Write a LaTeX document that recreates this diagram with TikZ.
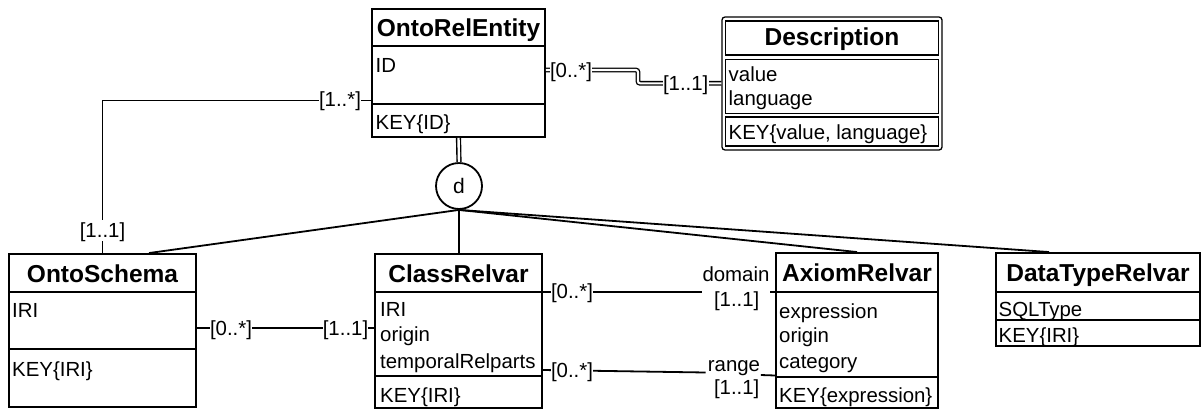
\documentclass[tikz,border=0pt]{standalone}
\usepackage{fontspec}
\setmainfont{Liberation Sans}
\begin{document}
\begin{tikzpicture}[x=1pt,y=-1pt,
  box/.style={draw, line width=1.9pt, inner sep=0pt},
  sepl/.style={line width=1.9pt},
  conn/.style={line width=1.8pt},
  dblA/.style={double, line width=1.4pt, double distance=2.4pt},
  dblB/.style={double, line width=1.3pt, double distance=2.1pt, rounded corners=2pt},
  ttl/.style={font=\fontsize{24.5}{29}\selectfont\bfseries, inner sep=0pt, text height=17.5pt, text depth=0pt},
  att/.style={font=\fontsize{20.4}{24}\selectfont, inner sep=0pt, text height=14.5pt, text depth=0pt, anchor=west},
  lab/.style={font=\fontsize{20.4}{24}\selectfont, inner xsep=0.3pt, inner ysep=3pt, text height=14.5pt, text depth=0pt, fill=white},
  plab/.style={font=\fontsize{20.4}{24}\selectfont, inner xsep=0.5pt, inner ysep=0pt, text height=14.5pt, text depth=0pt},
]
\useasboundingbox (0,0) rectangle (1202,410);

% ---------- OntoRelEntity
\node[box, minimum width=173pt, minimum height=128pt] (ore) at (458.5,73) {};
\draw[sepl] (ore.west |- 0,45.7) -- (ore.east |- 0,45.7);
\draw[sepl] (ore.west |- 0,104.3) -- (ore.east |- 0,104.3);
\node[ttl] (oreT) at (458.5,27.5) {OntoRelEntity};
\node[att] (oreA) at (375.5,65) {ID};
\node[att] (oreK) at (375.5,122) {KEY\{ID\}};

% ---------- Description
\node[draw, line width=1.3pt, rounded corners=3pt, minimum width=220pt, minimum height=133pt, inner sep=0pt] (desc) at (832,83.5) {};
\draw[line width=1.3pt] (725.5,21) rectangle (938.5,55);
\draw[line width=1.3pt] (725.5,59.5) rectangle (938.5,113.3);
\draw[line width=1.3pt] (725.5,117) rectangle (938.5,146);
\node[ttl] (descT) at (832,36.7) {Description};
\node[att] (descA1) at (728.5,74) {value};
\node[att] (descA2) at (728.5,98.3) {language};
\node[att] (descK) at (728.5,132.5) {KEY\{value, language\}};

% ---------- disjointness circle
\node[draw, circle, line width=1.8pt, minimum size=46pt, inner sep=0pt, font=\fontsize{21}{24}\selectfont] (dd) at (459,186) {d};

% ---------- OntoSchema
\node[box, minimum width=187pt, minimum height=153pt] (os) at (102.5,330.5) {};
\draw[sepl] (os.west |- 0,291.7) -- (os.east |- 0,291.7);
\draw[sepl] (os.west |- 0,349) -- (os.east |- 0,349);
\node[ttl] (osT) at (102.5,273.3) {OntoSchema};
\node[att] (osA) at (12,310) {IRI};
\node[att] (osK) at (12,369) {KEY\{IRI\}};

% ---------- ClassRelvar
\node[box, minimum width=167pt, minimum height=154pt] (cr) at (458.5,331) {};
\draw[sepl] (cr.west |- 0,292) -- (cr.east |- 0,292);
\draw[sepl] (cr.west |- 0,376) -- (cr.east |- 0,376);
\node[ttl] (crT) at (458.5,273.3) {ClassRelvar};
\node[att] (crA1) at (380,309.7) {IRI};
\node[att] (crA2) at (380,334) {origin};
\node[att] (crA3) at (380,361) {temporalRelparts};
\node[att] (crK) at (380,395) {KEY\{IRI\}};

% ---------- AxiomRelvar
\node[box, minimum width=162pt, minimum height=155pt] (ar) at (857,330.5) {};
\draw[sepl] (ar.west |- 0,292) -- (ar.east |- 0,292);
\draw[sepl] (ar.west |- 0,377) -- (ar.east |- 0,377);
\node[ttl] (arT) at (857,273) {AxiomRelvar};
\node[att] (arA1) at (779,311) {expression};
\node[att] (arA2) at (779,335.5) {origin};
\node[att] (arA3) at (779,361) {category};
\node[att] (arK) at (779,395) {KEY\{expression\}};

% ---------- DataTypeRelvar
\node[box, minimum width=204pt, minimum height=93pt] (dt) at (1098,299.5) {};
\draw[sepl] (dt.west |- 0,292) -- (dt.east |- 0,292);
\draw[sepl] (dt.west |- 0,320) -- (dt.east |- 0,320);
\node[ttl] (dtT) at (1098,273) {DataTypeRelvar};
\node[att] (dtA) at (998.5,309) {SQLType};
\node[att] (dtK) at (998.5,335) {KEY\{IRI\}};

% ---------- connectors
\draw[conn] (ore.west |- 0,100.5) -| (os.north);
\draw[dblB] (ore.east |- 0,70) -- ++(92,0) |- (desc.west |- 0,83.3);
\draw[dblA] (ore.south) -- (dd.north);
\draw[conn] (dd.south) -- ([xshift=141pt]os.north west);
\draw[conn] (dd.south) -- (dd.south |- cr.north);
\draw[conn] (dd.south) -- (ar.north);
\draw[conn] (dd.south) -- ([xshift=54pt]dt.north west);
\draw[conn] (os.east |- 0,328) -- (cr.west |- 0,328);

% domain / range role labels
\node[plab] (dom) at (736,274) {domain};
\node[plab] (domc) at (736.7,299) {[1..1]};
\node[plab] (rng) at (734,364) {range};
\node[plab] (rngc) at (736.7,387) {[1..1]};
\draw[conn] (cr.east |- 0,292) -- (dom.west |- 0,292);
\draw[conn] (dom.east |- 0,292) -- (ar.west |- 0,292);
\draw[conn] (cr.east |- 0,370) -- ([xshift=-1.5pt]rng.west |- 0,372.5);
\draw[conn] (rng.east |- 0,375) -- (ar.west |- 0,375.5);

% multiplicity labels
\node[lab] (m1) at (340,99.5) {[1..*]};
\node[lab] (m2) at (102.5,230.5) {[1..1]};
\node[lab] (m3) at (571,70.5) {[0..*]};
\node[lab] (m4) at (685.7,83.5) {[1..1]};
\node[lab] (m5) at (231,328) {[0..*]};
\node[lab] (m6) at (345.5,328) {[1..1]};
\node[lab] (m7) at (572,291) {[0..*]};
\node[lab] (m8) at (572,370.5) {[0..*]};
\end{tikzpicture}
\end{document}
